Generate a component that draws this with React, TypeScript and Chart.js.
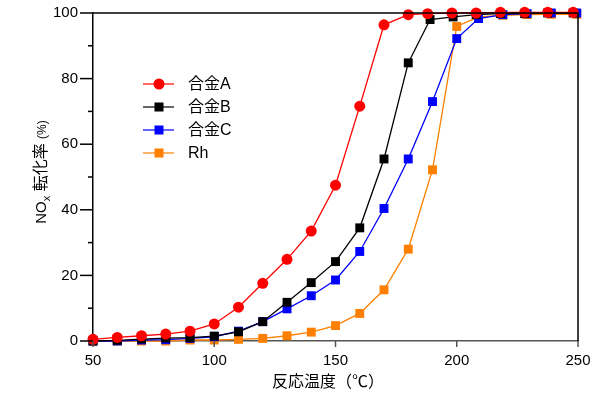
import React, { useEffect, useRef } from "react";
import { Chart, registerables } from "chart.js";
Chart.register(...registerables);

const tempsA = [50, 60, 70, 80, 90, 100, 110, 120, 130, 140, 150, 160, 170, 180, 188, 198, 208, 218, 228, 237.5, 248];
const tempsB = [50, 60, 70, 80, 90, 100, 110, 120, 130, 140, 150, 160, 170, 180, 189, 198.5, 208, 218, 228, 237.5, 248];
const tempsC = [50, 60, 70, 80, 90, 100, 110, 120, 130, 140, 150, 160, 170, 180, 190, 200, 209, 219, 229, 239, 249.5];
const tempsRh = [50, 60, 70, 80, 90, 100, 110, 120, 130, 140, 150, 160, 170, 180, 190, 200, 209, 219, 229, 239, 249.5];

// NOx conversion (%)
const alloyA = [0.5, 1.1, 1.6, 2.1, 3.0, 5.2, 10.3, 17.6, 24.9, 33.5, 47.5, 71.6, 96.4, 99.5, 99.8, 100, 100, 100.2, 100.2, 100.2, 100.2];
const alloyB = [0, 0.2, 0.6, 0.9, 1.0, 1.5, 2.8, 5.9, 11.8, 17.8, 24.2, 34.5, 55.5, 84.8, 98, 98.8, 99.5, 99.8, 99.8, 100, 100];
const alloyC = [0, 0, 0.3, 0.4, 0.8, 1.3, 3.0, 5.9, 9.8, 13.8, 18.6, 27.3, 40.4, 55.5, 73, 92.2, 98.3, 99.5, 99.8, 100, 100];
const rh = [0, 0, 0, 0, 0.3, 0.3, 0.5, 0.8, 1.6, 2.7, 4.7, 8.4, 15.6, 28, 52.2, 95.9, 98.8, 99.3, 99.5, 99.6, 99.6];

const seriesNames = ["合金A", "合金B", "合金C", "Rh"];
const seriesColors = ["#ff0000", "#000000", "#0000ff", "#ff8000"];
const seriesShapes = ["circle", "rect", "rect", "rect"];
const seriesTemps = [tempsA, tempsB, tempsC, tempsRh];
const seriesValues = [alloyA, alloyB, alloyC, rh];

const xTitle = "反応温度（℃）";
const FONT = '"Liberation Sans", Arial, "Noto Sans CJK JP", sans-serif';

const decorPlugin = {
  id: "decor",
  afterDraw(chart: any) {
    const { ctx, chartArea } = chart;
    const { left, right, top, bottom } = chartArea;
    const xs = chart.scales.x;
    const ys = chart.scales.y;
    ctx.save();
    ctx.strokeStyle = "#000";
    ctx.lineWidth = 1.5;
    ctx.beginPath();
    ctx.moveTo(left, top);
    ctx.lineTo(right, top);
    ctx.lineTo(right, bottom);
    ctx.stroke();
    for (let v = 0; v <= 100; v += 10) {
      const y = ys.getPixelForValue(v);
      const len = v % 20 === 0 ? 13 : 5;
      ctx.beginPath();
      ctx.moveTo(left - len, y);
      ctx.lineTo(left, y);
      ctx.stroke();
    }
    ctx.strokeStyle = "#555";
    for (let v = 50; v <= 250; v += 50) {
      const x = xs.getPixelForValue(v);
      ctx.beginPath();
      ctx.moveTo(x, bottom);
      ctx.lineTo(x, bottom + 6);
      ctx.stroke();
    }
    ctx.fillStyle = "#000";
    ctx.font = `16px ${FONT}`;
    ctx.textAlign = "center";
    ctx.textBaseline = "middle";
    ctx.fillText(xTitle, 328, 383);
    ctx.translate(41, 172);
    ctx.rotate(-Math.PI / 2);
    const parts = [
      { t: "NO", f: `15px ${FONT}`, dy: 0 },
      { t: "x", f: `11px ${FONT}`, dy: 4 },
      { t: " 転化率 ", f: `16px ${FONT}`, dy: 0 },
      { t: "(%)", f: `12px ${FONT}`, dy: 0 },
    ];
    let total = 0;
    for (const p of parts) {
      ctx.font = p.f;
      total += ctx.measureText(p.t).width;
    }
    let cx = -total / 2;
    ctx.textAlign = "left";
    ctx.textBaseline = "alphabetic";
    for (const p of parts) {
      ctx.font = p.f;
      ctx.fillText(p.t, cx, 5 + p.dy);
      cx += ctx.measureText(p.t).width;
    }
    ctx.setTransform(1, 0, 0, 1, 0, 0);
    for (let i = 0; i < seriesNames.length; i++) {
      const y = 84 + i * 23;
      const c = seriesColors[i];
      ctx.strokeStyle = c;
      ctx.fillStyle = c;
      ctx.lineWidth = 1.2;
      ctx.beginPath();
      ctx.moveTo(143, y);
      ctx.lineTo(174, y);
      ctx.stroke();
      if (seriesShapes[i] === "circle") {
        ctx.beginPath();
        ctx.arc(159, y, 5.5, 0, Math.PI * 2);
        ctx.fill();
      } else {
        ctx.fillRect(159 - 4.5, y - 4.5, 9, 9);
      }
      ctx.fillStyle = "#000";
      ctx.font = `16px ${FONT}`;
      ctx.textAlign = "left";
      ctx.textBaseline = "middle";
      ctx.fillText(seriesNames[i], 188, y + 1);
    }
    ctx.restore();
  },
};

export default function App() {
  const ref = useRef<HTMLCanvasElement>(null);
  useEffect(() => {
    document.body.style.margin = "0";
    const chart = new Chart(ref.current as HTMLCanvasElement, {
      type: "line",
      data: {
        datasets: seriesValues.map((vals, i) => ({
          label: seriesNames[i],
          data: seriesTemps[i].map((t, j) => ({ x: t, y: vals[j] })),
          borderColor: seriesColors[i],
          backgroundColor: seriesColors[i],
          borderWidth: 1.3,
          pointStyle: seriesShapes[i] as any,
          pointRadius: seriesShapes[i] === "circle" ? 5.5 : 6.3,
          pointBorderWidth: 0,
          tension: 0,
          clip: false as any,
        })),
      },
      options: {
        animation: false,
        responsive: false,
        layout: { autoPadding: false, padding: { left: 0, right: 22, top: 13, bottom: 0 } },
        plugins: { legend: { display: false }, tooltip: { enabled: false } },
        scales: {
          x: {
            type: "linear",
            min: 50,
            max: 250,
            ticks: { stepSize: 50, color: "#000", padding: 11, font: { family: FONT, size: 15 } },
            grid: { display: true, drawOnChartArea: false, drawTicks: false },
            border: { color: "#555", width: 1.5 },
            afterFit: (s: any) => { s.height = 55; s.paddingLeft = 0; s.paddingRight = 0; },
          },
          y: {
            min: 0,
            max: 100,
            ticks: { stepSize: 20, color: "#000", padding: 15, font: { family: FONT, size: 15 } },
            grid: { display: true, drawOnChartArea: false, drawTicks: false },
            border: { color: "#000", width: 1.5 },
            afterFit: (s: any) => { s.width = 93; s.paddingTop = 0; s.paddingBottom = 0; },
          },
        },
      },
      plugins: [decorPlugin],
    });
    return () => chart.destroy();
  }, []);
  return (
    <div style={{ position: "absolute", left: 0, top: 0, width: 600, height: 396 }}>
      <canvas ref={ref} width={600} height={396} style={{ width: 600, height: 396 }} />
    </div>
  );
}
